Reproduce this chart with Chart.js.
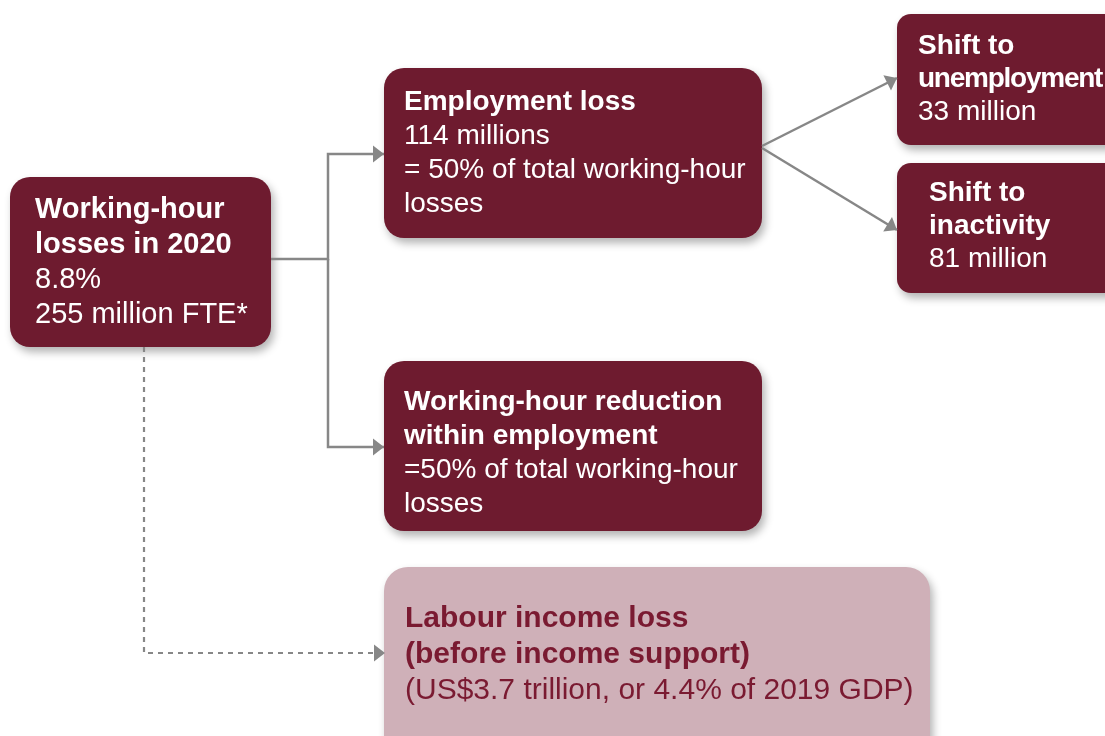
<!DOCTYPE html>
<html>
<head>
<meta charset="utf-8">
<title>Working-hour losses in 2020</title>
<script src="https://cdn.jsdelivr.net/npm/chart.js@4.4.1/dist/chart.umd.min.js"></script>
<style>
  html, body { margin: 0; padding: 0; background: #fff; }
  #wrap { width: 1105px; height: 736px; }
</style>
</head>
<body>
<div id="wrap"><canvas id="flow" width="1105" height="736"></canvas></div>
<script>
// Figures behind the breakdown
const lossSharePct = 8.8;
const lossFteMillions = 255;
const employmentLossMillions = 114;
const unemploymentMillions = 33;
const inactivityMillions = 81;
const splitPct = [50, 50];            // employment loss / hours cut within employment
const incomeLossTrillionUsd = 3.7;
const incomeLossGdpPct = 4.4;

// Bold headings of each node
const nodeTitles = [
  ['Working-hour', 'losses in 2020'],
  ['Employment loss'],
  ['Shift to', 'unemployment'],
  ['Shift to', 'inactivity'],
  ['Working-hour reduction', 'within employment'],
  ['Labour income loss', '(before income support)']
];

// Plain lines under the headings
const nodeDetails = [
  [`${lossSharePct}%`, `${lossFteMillions} million FTE*`],
  [`${employmentLossMillions} millions`, `= ${splitPct[0]}% of total working-hour`, 'losses'],
  [`${unemploymentMillions} million`],
  [`${inactivityMillions} million`],
  [`=${splitPct[1]}% of total working-hour`, 'losses'],
  [`(US$${incomeLossTrillionUsd} trillion, or ${incomeLossGdpPct}% of 2019 GDP)`]
];

const DARK = '#6e1b2f';
const LIGHT = '#cfb0b8';

// Box geometry in axis units (x: 0..1105, y: 0..736 top-down)
const nodeLayout = [
  { x0: 10,  y0: 177, x1: 271,  y1: 347, tx: 35,  ty: 218, lh: 35, fs: 29, r: 20, fill: DARK,  ink: '#ffffff' },
  { x0: 384, y0: 68,  x1: 762,  y1: 238, tx: 404, ty: 110, lh: 34, fs: 28, r: 20, fill: DARK,  ink: '#ffffff' },
  { x0: 897, y0: 14,  x1: 1125, y1: 145, tx: 918, ty: 54,  lh: 33, fs: 28, r: 14, fill: DARK,  ink: '#ffffff', squeeze: -1.25 },
  { x0: 897, y0: 163, x1: 1125, y1: 293, tx: 929, ty: 201, lh: 33, fs: 28, r: 14, fill: DARK,  ink: '#ffffff' },
  { x0: 384, y0: 361, x1: 762,  y1: 531, tx: 404, ty: 410, lh: 34, fs: 28, r: 20, fill: DARK,  ink: '#ffffff' },
  { x0: 384, y0: 567, x1: 930,  y1: 760, tx: 405, ty: 627, lh: 36, fs: 30, r: 24, fill: LIGHT, ink: '#7a1a31' }
];

// Connector paths, ending at the arrow tip
const linkPaths = [
  [[271, 259], [328, 259], [328, 154], [384, 154]],
  [[328, 259], [328, 447], [384, 447]],
  [[762, 146], [897, 78]],
  [[762, 148], [897, 230]],
  [[144, 347], [144, 653], [385, 653]]
];
const linkDashed = [false, false, false, false, true];

const LINK_GREY = '#878787';

const nodePlugin = {
  id: 'nodes',
  beforeDatasetsDraw(chart) {
    const { ctx, scales: { x, y } } = chart;
    nodeLayout.forEach((n, i) => {
      const left = x.getPixelForValue(n.x0), right = x.getPixelForValue(n.x1);
      const top = y.getPixelForValue(n.y0), bottom = y.getPixelForValue(n.y1);
      ctx.save();
      ctx.shadowColor = 'rgba(0,0,0,0.3)';
      ctx.shadowBlur = 9;
      ctx.shadowOffsetX = 3;
      ctx.shadowOffsetY = 5;
      ctx.fillStyle = n.fill;
      ctx.beginPath();
      ctx.roundRect(left, top, right - left, bottom - top, n.r);
      ctx.fill();
      ctx.restore();

      ctx.save();
      ctx.fillStyle = n.ink;
      ctx.textBaseline = 'alphabetic';
      ctx.textAlign = 'left';
      const tx = x.getPixelForValue(n.tx);
      let line = 0;
      nodeTitles[i].forEach(t => {
        ctx.font = `bold ${n.fs}px 'Liberation Sans', Arial, sans-serif`;
        ctx.letterSpacing = (n.squeeze && t.length > 10) ? n.squeeze + 'px' : '0px';
        ctx.fillText(t, tx, y.getPixelForValue(n.ty + line * n.lh));
        line++;
      });
      ctx.letterSpacing = '0px';
      nodeDetails[i].forEach(t => {
        ctx.font = `${n.fs}px 'Liberation Sans', Arial, sans-serif`;
        ctx.fillText(t, tx, y.getPixelForValue(n.ty + line * n.lh));
        line++;
      });
      ctx.restore();
    });
  }
};

const arrowPlugin = {
  id: 'arrowheads',
  afterDatasetsDraw(chart) {
    const ctx = chart.ctx;
    chart.data.datasets.forEach((ds, i) => {
      const pts = chart.getDatasetMeta(i).data;
      const tip = pts[pts.length - 1], from = pts[pts.length - 2];
      const a = Math.atan2(tip.y - from.y, tip.x - from.x);
      const len = 11, half = 8.5;
      ctx.save();
      ctx.translate(tip.x, tip.y);
      ctx.rotate(a);
      ctx.fillStyle = LINK_GREY;
      ctx.beginPath();
      ctx.moveTo(0, 0);
      ctx.lineTo(-len, -half);
      ctx.lineTo(-len, half);
      ctx.closePath();
      ctx.fill();
      ctx.restore();
    });
  }
};

new Chart(document.getElementById('flow'), {
  type: 'scatter',
  data: {
    datasets: linkPaths.map((path, i) => ({
      data: path.map(([px, py]) => ({ x: px, y: py })),
      showLine: true,
      borderColor: LINK_GREY,
      borderWidth: linkDashed[i] ? 2.2 : 2.5,
      borderDash: linkDashed[i] ? [5, 5] : [],
      pointRadius: 0,
      tension: 0,
      clip: false
    }))
  },
  options: {
    responsive: false,
    animation: false,
    events: [],
    layout: { padding: 0 },
    plugins: { legend: { display: false }, tooltip: { enabled: false } },
    scales: {
      x: { type: 'linear', min: 0, max: 1105, display: false },
      y: { type: 'linear', min: 0, max: 736, reverse: true, display: false }
    }
  },
  plugins: [nodePlugin, arrowPlugin]
});
</script>
</body>
</html>
